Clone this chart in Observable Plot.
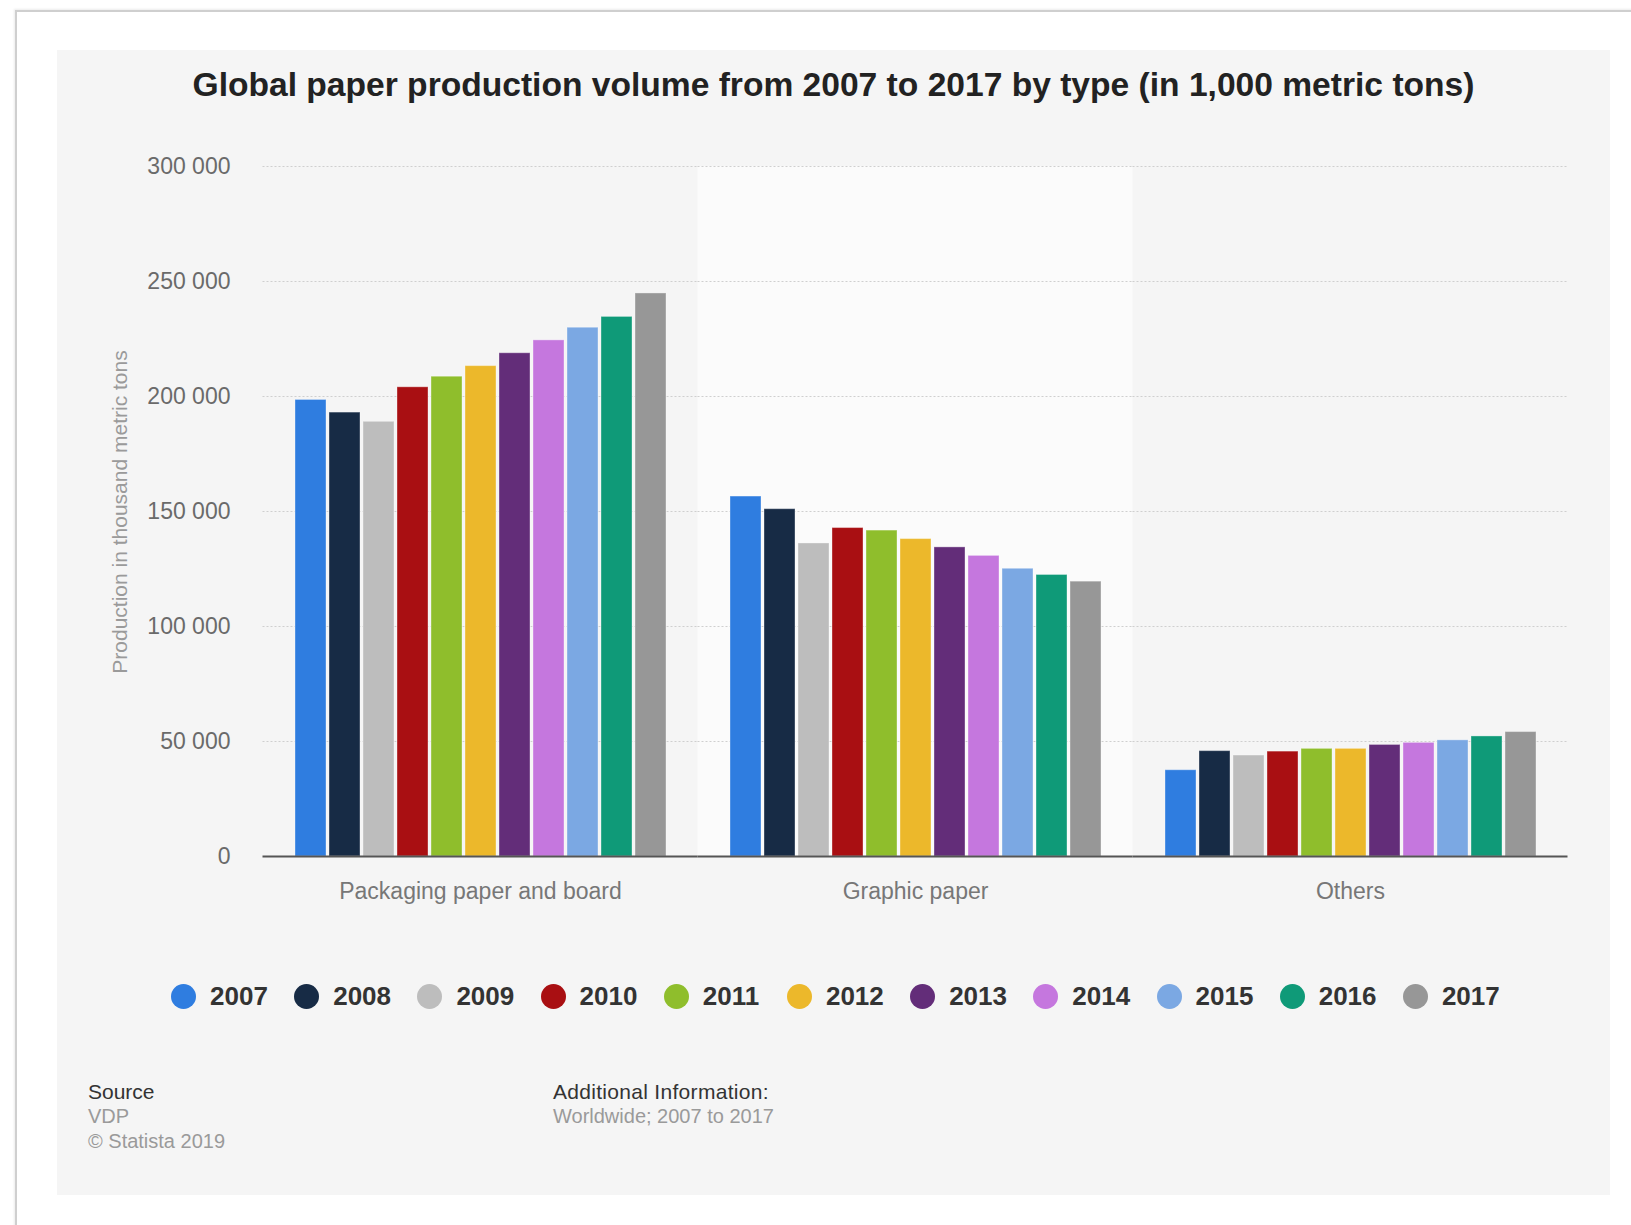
<!DOCTYPE html>
<html>
<head>
<meta charset="utf-8">
<script src="https://cdn.jsdelivr.net/npm/d3@7"></script>
<script src="https://cdn.jsdelivr.net/npm/@observablehq/plot@0.6"></script>
<style>
  html, body { margin: 0; padding: 0; background: #fff; }
  body { width: 1631px; height: 1225px; position: relative; overflow: hidden; font-family: "Liberation Sans", Arial, Helvetica, sans-serif; }
  #card { position: absolute; left: 15px; top: 10px; width: 1700px; height: 1300px; border-left: 2px solid #cfcfcf; border-top: 2px solid #cfcfcf; box-shadow: -1px -1px 2px rgba(0,0,0,0.08); background: #fff; }
  #panel { position: absolute; left: 57px; top: 50px; width: 1553px; height: 1145px; background: #f5f5f5; }
  #title { position: absolute; left: 57px; top: 65px; width: 1553px; text-align: center; font-weight: bold; font-size: 33.6px; line-height: 40px; color: #222; }
  #chart { position: absolute; left: 57px; top: 140px; }
  #ytitle { position: absolute; left: 120px; top: 512px; transform: translate(-50%, -50%) rotate(-90deg); white-space: nowrap; font-size: 21px; color: #9a9a9a; }
  #legend { position: absolute; left: 171px; top: 982px; display: flex; }
  .item { display: flex; align-items: center; width: 123.2px; height: 28px; }
  .dot { width: 25px; height: 25px; border-radius: 50%; margin-right: 14px; flex: none; }
  .lab { font-weight: bold; font-size: 26px; color: #333; }
  .foot { position: absolute; font-size: 20px; line-height: 25px; }
  .head { font-size: 21px; color: #333; }
  #chart svg [aria-label^="y-axis"] text { fill: #6a6a6a; }
  #chart svg [aria-label^="fx-axis"] text { fill: #777; }
</style>
</head>
<body>
<div id="card"></div>
<div id="panel"></div>
<div id="title">Global paper production volume from 2007 to 2017 by type (in 1,000 metric tons)</div>
<div id="chart"></div>
<div id="ytitle">Production in thousand metric tons</div>
<div id="legend"></div>
<div class="foot" style="left:88px; top:1079px;">
  <div class="head">Source</div>
  <div style="color:#9a9a9a">VDP</div>
  <div style="color:#9a9a9a">© Statista 2019</div>
</div>
<div class="foot" style="left:553px; top:1079px;">
  <div class="head" style="letter-spacing:0.3px">Additional Information:</div>
  <div style="color:#9a9a9a">Worldwide; 2007 to 2017</div>
</div>
<script>
const categories = ["Packaging paper and board", "Graphic paper", "Others"];
const years = ["2007", "2008", "2009", "2010", "2011", "2012", "2013", "2014", "2015", "2016", "2017"];
const packaging = [198500, 193000, 189000, 204000, 208600, 213200, 218800, 224400, 229900, 234600, 244800];
const graphic   = [156500, 151000, 136100, 142800, 141700, 138000, 134400, 130700, 125100, 122400, 119500];
const others    = [37500, 45800, 43900, 45600, 46800, 46800, 48500, 49400, 50500, 52200, 54100];
const colors = ["#2f7de0", "#172b45", "#bdbdbd", "#a90f12", "#8fbe2c", "#ecb82b", "#632d79", "#c577de", "#7ba8e3", "#0f9a78", "#979797"];
const yTicks = [0, 50000, 100000, 150000, 200000, 250000, 300000];
const highlighted = ["Graphic paper"];

const series = [packaging, graphic, others];
const data = categories.flatMap((c, i) => years.map((y, j) => ({category: c, year: y, value: series[i][j]})));
const fmt = d => d3.format(",")(d).replace(/,/g, " ");

const half = 31.5;
const chart = Plot.plot({
  width: 1553,
  height: 780,
  marginLeft: 205,
  marginRight: 42,
  marginTop: 26,
  marginBottom: 64,
  style: {background: "transparent", fontFamily: "'Liberation Sans', Arial, sans-serif", fontSize: "23px", overflow: "visible"},
  fx: {domain: categories, paddingInner: 0.145, paddingOuter: 0.0725, label: null, axis: "bottom", tickSize: 0, tickPadding: 26},
  x: {domain: years, paddingInner: 0.1, paddingOuter: 0, axis: null},
  y: {domain: [0, 300000], ticks: yTicks, tickFormat: fmt, tickSize: 0, tickPadding: 64, label: null},
  color: {domain: years, range: colors},
  marks: [
    Plot.rect(highlighted.map(c => ({category: c})), {fx: "category", y1: 0, y2: 300000, fill: "#fbfbfb", insetLeft: -half, insetRight: -half}),
    Plot.ruleY(yTicks.filter(v => v > 0), {stroke: "#cfcfcf", strokeDasharray: "2,2", insetLeft: -half, insetRight: -half}),
    Plot.barY(data, {fx: "category", x: "year", y: "value", fill: "year", stroke: "#ffffff", strokeOpacity: 0.35, strokeWidth: 1}),
    Plot.ruleY([0], {stroke: "#555", strokeWidth: 2, insetLeft: -half, insetRight: -half})
  ]
});
document.getElementById("chart").appendChild(chart);

const legend = document.getElementById("legend");
years.forEach((y, i) => {
  const item = document.createElement("div");
  item.className = "item";
  item.innerHTML = `<span class="dot" style="background:${colors[i]}"></span><span class="lab">${y}</span>`;
  legend.appendChild(item);
});
</script>
</body>
</html>
